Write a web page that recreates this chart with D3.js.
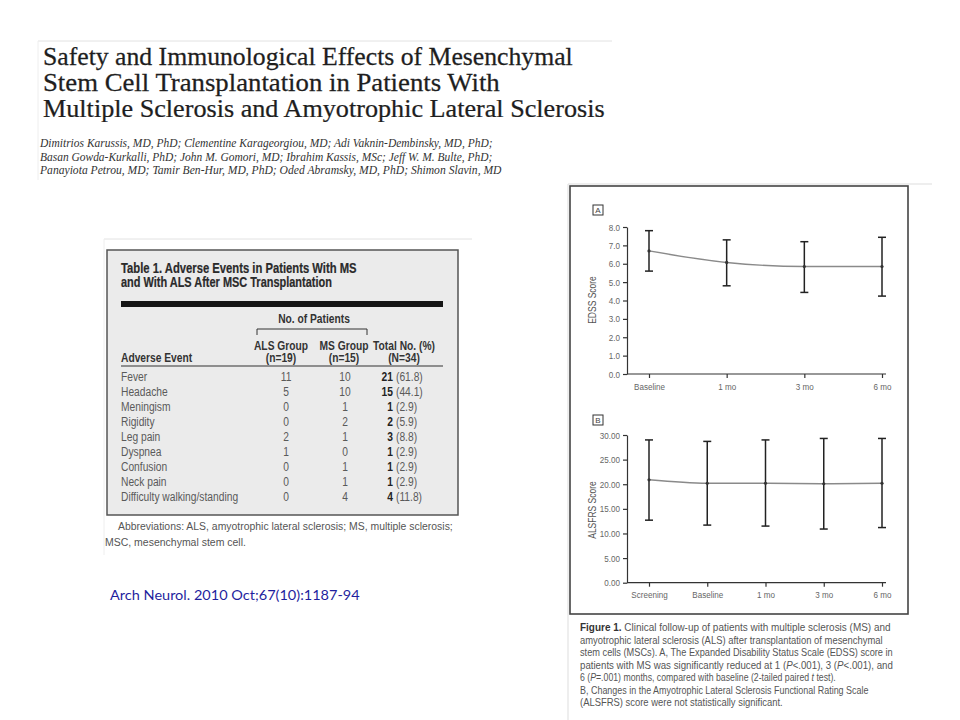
<!DOCTYPE html>
<html>
<head>
<meta charset="utf-8">
<script src="https://cdn.jsdelivr.net/npm/d3@7"></script>
<style>
  body { margin: 0; background: #fff; }
  svg { display: block; }
  .narrow { font-family: "Liberation Sans", Arial, sans-serif; }
</style>
</head>
<body>
<svg id="slide" width="960" height="720"></svg>
<script>
// ---- slide text ----
const titleLines = [
  "Safety and Immunological Effects of Mesenchymal",
  "Stem Cell Transplantation in Patients With",
  "Multiple Sclerosis and Amyotrophic Lateral Sclerosis"
];
const authorLines = [
  "Dimitrios Karussis, MD, PhD; Clementine Karageorgiou, MD; Adi Vaknin-Dembinsky, MD, PhD;",
  "Basan Gowda-Kurkalli, PhD; John M. Gomori, MD; Ibrahim Kassis, MSc; Jeff W. M. Bulte, PhD;",
  "Panayiota Petrou, MD; Tamir Ben-Hur, MD, PhD; Oded Abramsky, MD, PhD; Shimon Slavin, MD"
];
const citation = "Arch Neurol. 2010 Oct;67(10):1187-94";

// ---- table 1 ----
const tableTitle = ["Table 1. Adverse Events in Patients With MS", "and With ALS After MSC Transplantation"];
const events = ["Fever", "Headache", "Meningism", "Rigidity", "Leg pain", "Dyspnea", "Confusion", "Neck pain", "Difficulty walking/standing"];
const alsCounts = [11, 5, 0, 0, 2, 1, 0, 0, 0];
const msCounts = [10, 10, 1, 2, 1, 0, 1, 1, 4];
const totalCounts = [21, 15, 1, 2, 3, 1, 1, 1, 4];
const totalPct = ["61.8", "44.1", "2.9", "5.9", "8.8", "2.9", "2.9", "2.9", "11.8"];
const abbrevLines = [
  "Abbreviations: ALS, amyotrophic lateral sclerosis; MS, multiple sclerosis;",
  "MSC, mesenchymal stem cell."
];

// ---- figure 1A: EDSS ----
const edssTimes = ["Baseline", "1 mo", "3 mo", "6 mo"];
const edssMean = [6.7, 6.07, 5.85, 5.85];
const edssUpper = [7.8, 7.3, 7.2, 7.44];
const edssLower = [5.6, 4.8, 4.44, 4.24];
const edssTicks = [0, 1, 2, 3, 4, 5, 6, 7, 8];

// ---- figure 1B: ALSFRS ----
const alsfrsTimes = ["Screening", "Baseline", "1 mo", "3 mo", "6 mo"];
const alsfrsMean = [20.9, 20.2, 20.2, 20.1, 20.2];
const alsfrsUpper = [29.0, 28.7, 29.0, 29.3, 29.3];
const alsfrsLower = [12.7, 11.7, 11.5, 10.9, 11.2];
const alsfrsTicks = [0, 5, 10, 15, 20, 25, 30];

// caption, *x* marks italics
const captionLines = [
  "Clinical follow-up of patients with multiple sclerosis (MS) and",
  "amyotrophic lateral sclerosis (ALS) after transplantation of mesenchymal",
  "stem cells (MSCs). A, The Expanded Disability Status Scale (EDSS) score in",
  "patients with MS was significantly reduced at 1 (*P*<.001), 3 (*P*<.001), and",
  "6 (*P*=.001) months, compared with baseline (2-tailed paired *t* test).",
  "B, Changes in the Amyotrophic Lateral Sclerosis Functional Rating Scale",
  "(ALSFRS) score were not statistically significant."
];
const captionWidths = [311, 303, 313, 313, 256, 289, 203];

const svg = d3.select("#slide");
svg.append("rect").attr("width", 960).attr("height", 720).attr("fill", "#fff");

// squeeze a text horizontally (condensed look) around its own anchor point
function squeeze(sel, x, y, sx) {
  sel.attr("x", 0).attr("y", 0).attr("transform", `translate(${x},${y}) scale(${sx},1)`);
  return sel;
}
// squeeze a text so that it is exactly w wide
function fitWidth(sel, x, y, w) {
  sel.attr("x", 0).attr("y", 0);
  const len = sel.node().getComputedTextLength();
  sel.attr("transform", `translate(${x},${y}) scale(${w / len},1)`);
  return sel;
}

// ---------- title block ----------
svg.append("line").attr("x1", 38).attr("x2", 612).attr("y1", 41).attr("y2", 41).attr("stroke", "#e2e2e2");
svg.append("line").attr("x1", 38).attr("x2", 38).attr("y1", 41).attr("y2", 180).attr("stroke", "#eeeeee");
const titleWidths = [530, 457, 562];
titleLines.forEach((d, i) => {
  const t = svg.append("text")
    .style("font-family", "'Liberation Serif', 'DejaVu Serif', serif")
    .style("font-size", "25px").attr("fill", "#1e1e1e").attr("stroke", "#1e1e1e").attr("stroke-width", 0.25)
    .text(d);
  fitWidth(t, 43, 65 + i * 26, titleWidths[i]);
});
const authorWidths = [453, 453, 462];
authorLines.forEach((d, i) => {
  const t = svg.append("text")
    .style("font-family", "'Liberation Serif', 'DejaVu Serif', serif")
    .style("font-style", "italic").style("font-size", "11.5px").attr("fill", "#333")
    .text(d);
  fitWidth(t, 40, 147 + i * 13.5, authorWidths[i]);
});

// ---------- table ----------
svg.append("line").attr("x1", 104).attr("x2", 472).attr("y1", 239).attr("y2", 239).attr("stroke", "#e2e2e2");
svg.append("line").attr("x1", 104).attr("x2", 104).attr("y1", 239).attr("y2", 555).attr("stroke", "#eeeeee");
svg.append("rect").attr("x", 107).attr("y", 250).attr("width", 351).attr("height", 265)
  .attr("fill", "#ebebeb").attr("stroke", "#555").attr("stroke-width", 1.5);

const tbl = svg.append("g").attr("class", "narrow");
tableTitle.forEach((d, i) => {
  const t = tbl.append("text").style("font-size", "14px").style("font-weight", "bold")
    .attr("fill", "#2a2a2a").attr("stroke", "#2a2a2a").attr("stroke-width", 0.2).text(d);
  fitWidth(t, 121, 273 + i * 14, [236, 211][i]);
});
tbl.append("rect").attr("x", 121).attr("y", 301).attr("width", 322).attr("height", 6).attr("fill", "#151515");

const SX = 0.82;
const colX = { als: 281, ms: 344, tot: 404 };
squeeze(tbl.append("text").attr("text-anchor", "middle")
  .style("font-size", "12.5px").style("font-weight", "bold").attr("fill", "#333").text("No. of Patients"), 314, 323, SX);
tbl.append("path").attr("d", "M257,335V329H367V335").attr("fill", "none").attr("stroke", "#333");

const headers = [["ALS Group", "(n=19)", colX.als], ["MS Group", "(n=15)", colX.ms], ["Total No. (%)", "(N=34)", colX.tot]];
headers.forEach(h => {
  [h[0], h[1]].forEach((t, i) => {
    squeeze(tbl.append("text").attr("text-anchor", "middle")
      .style("font-size", "12.5px").style("font-weight", "bold").attr("fill", "#333").text(t), h[2], 350 + i * 11.5, SX);
  });
});
squeeze(tbl.append("text").style("font-size", "12.5px").style("font-weight", "bold")
  .attr("fill", "#333").text("Adverse Event"), 121, 361.5, SX);
tbl.append("line").attr("x1", 121).attr("x2", 443).attr("y1", 366).attr("y2", 366).attr("stroke", "#333").attr("stroke-width", 1.2);

const rowY = d3.scaleBand().domain(events).range([369, 504]);
events.forEach((ev, i) => {
  const y = rowY(ev) + rowY.bandwidth() / 2 + 4.5;
  const cell = (txt, x, anchor, bold, fill) => squeeze(tbl.append("text").attr("text-anchor", anchor)
    .style("font-size", "12.5px").style("font-weight", bold ? "bold" : "normal").attr("fill", fill).text(txt), x, y, SX);
  cell(ev, 121, "start", false, "#5a5a5a");
  cell(alsCounts[i], colX.als + 5, "middle", false, "#5a5a5a");
  cell(msCounts[i], colX.ms + 1, "middle", false, "#5a5a5a");
  cell(totalCounts[i], 393, "end", true, "#222");
  cell(`(${totalPct[i]})`, 396, "start", false, "#5a5a5a");
});

abbrevLines.forEach((d, i) => {
  const t = tbl.append("text").style("font-size", "11.5px").attr("fill", "#555").text(d);
  fitWidth(t, i === 0 ? 118 : 105, 530 + i * 16, [335, 141][i]);
});

const cit = svg.append("text")
  .style("font-family", "Lato, 'Open Sans', sans-serif").style("font-size", "14px")
  .attr("fill", "#1f1f9e").text(citation);
fitWidth(cit, 110, 600, 250);

// ---------- figure 1 ----------
svg.append("line").attr("x1", 568).attr("x2", 932).attr("y1", 184).attr("y2", 184).attr("stroke", "#dddddd");
svg.append("line").attr("x1", 568).attr("x2", 568).attr("y1", 184).attr("y2", 720).attr("stroke", "#dddddd");
svg.append("rect").attr("x", 570).attr("y", 186).attr("width", 338).attr("height", 428)
  .attr("fill", "#fff").attr("stroke", "#444").attr("stroke-width", 1.6);

function panel(opts) {
  const g = svg.append("g").attr("class", "narrow");
  const x = d3.scalePoint().domain(opts.times).range([649, 882]);
  const y = d3.scaleLinear().domain(opts.domain).range(opts.yRange);

  g.append("rect").attr("x", 593).attr("y", opts.labelY).attr("width", 10).attr("height", 10)
    .attr("fill", "#fff").attr("stroke", "#333");
  g.append("text").attr("x", 598).attr("y", opts.labelY + 8).attr("text-anchor", "middle")
    .style("font-size", "8px").attr("fill", "#444").text(opts.label);

  const yAxis = g.append("g").attr("transform", "translate(627,0)")
    .call(d3.axisLeft(y).tickValues(opts.ticks).tickFormat(d3.format(opts.fmt)).tickSize(4).tickSizeOuter(0));
  const xAxis = g.append("g").attr("transform", `translate(0,${opts.yRange[0]})`)
    .call(d3.axisBottom(x).tickSize(4).tickSizeOuter(0));
  xAxis.select(".domain").attr("d", "M627,0H886");
  [yAxis, xAxis].forEach(a => {
    a.selectAll("path, line").attr("stroke", "#333").attr("stroke-width", 1.2);
    a.selectAll("text").attr("fill", "#666").style("font-size", "9.5px")
      .style("font-family", "'Liberation Sans', Arial, sans-serif");
  });
  // condensed tick labels
  yAxis.selectAll(".tick text").attr("transform", "scale(0.85,1)").attr("x", -7 / 0.85);
  xAxis.selectAll(".tick text").attr("dy", "0.9em").attr("transform", "scale(0.85,1)");

  g.append("text")
    .attr("transform", `translate(${opts.titleX},${opts.titleY}) rotate(-90) scale(0.85,1)`)
    .attr("text-anchor", "middle").style("font-size", "10px").attr("fill", "#555").text(opts.yTitle);

  // mean line
  const pts = opts.times.map((t, i) => [x(t), y(opts.mean[i])]);
  g.append("path").attr("d", d3.line().curve(d3.curveMonotoneX)(pts))
    .attr("fill", "none").attr("stroke", "#8a8a8a").attr("stroke-width", 1.4);

  // error bars
  const bars = g.selectAll(".eb").data(opts.times).join("g");
  bars.append("line").attr("x1", d => x(d)).attr("x2", d => x(d))
    .attr("y1", (d, i) => y(opts.upper[i])).attr("y2", (d, i) => y(opts.lower[i]))
    .attr("stroke", "#222").attr("stroke-width", 1.5);
  ["upper", "lower"].forEach(k => {
    bars.append("line").attr("x1", d => x(d) - 4).attr("x2", d => x(d) + 4)
      .attr("y1", (d, i) => y(opts[k][i])).attr("y2", (d, i) => y(opts[k][i]))
      .attr("stroke", "#222").attr("stroke-width", 1.5);
  });
  bars.append("circle").attr("cx", d => x(d)).attr("cy", (d, i) => y(opts.mean[i]))
    .attr("r", 1.6).attr("fill", "#333");
}

panel({ times: edssTimes, mean: edssMean, upper: edssUpper, lower: edssLower,
  domain: [0, 8], yRange: [374, 227], ticks: edssTicks, fmt: ".1f",
  label: "A", labelY: 205, yTitle: "EDSS Score", titleX: 596, titleY: 300 });
panel({ times: alsfrsTimes, mean: alsfrsMean, upper: alsfrsUpper, lower: alsfrsLower,
  domain: [0, 30], yRange: [582.7, 435], ticks: alsfrsTicks, fmt: ".2f",
  label: "B", labelY: 415, yTitle: "ALSFRS Score", titleX: 596, titleY: 510 });

// caption
const cap = svg.append("g").attr("class", "narrow").style("font-size", "11px");
captionLines.forEach((line, i) => {
  const t = cap.append("text").attr("fill", "#555");
  if (i === 0) t.append("tspan").style("font-weight", "bold").attr("fill", "#333").text("Figure 1. ");
  line.split("*").forEach((seg, j) => {
    if (seg) t.append("tspan").style("font-style", j % 2 ? "italic" : "normal").text(seg);
  });
  fitWidth(t, 580, 631 + i * 12.5, captionWidths[i]);
});
</script>
</body>
</html>
